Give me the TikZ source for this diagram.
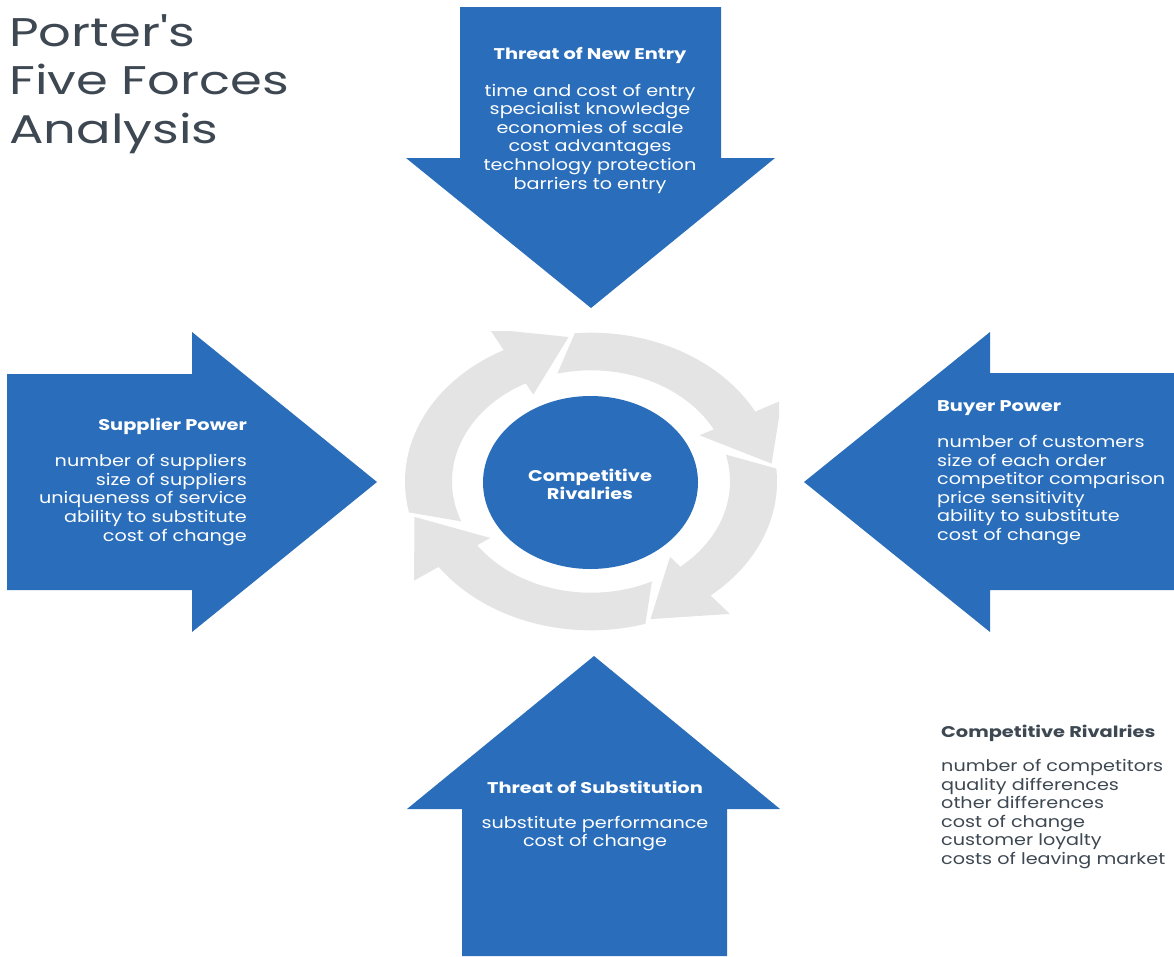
\documentclass[tikz,border=0pt]{standalone}
\usepackage{fontspec}
\setmainfont[FakeStretch=1.2,BoldFeatures={FakeStretch=1.25}]{Poppins}
\newfontfamily\titlefont[FakeStretch=1.28]{Poppins}
\usetikzlibrary{shapes.geometric}
\definecolor{forceblue}{HTML}{2A6EBB}
\definecolor{ringgray}{HTML}{E4E4E4}
\definecolor{titlegray}{HTML}{3E4852}
\begin{document}
\begin{tikzpicture}[x=1pt,y=1pt,
  force/.style={fill=forceblue,draw=none},
  head/.style={text=white,font=\fontsize{15.5}{18.6}\selectfont\bfseries,inner sep=0pt},
  items/.style={text=white,font=\fontsize{16}{18.6}\selectfont,inner sep=0pt},
]
\useasboundingbox[fill=white] (0,0) rectangle (1174,-956);

% five force arrows
\fill[force] (460,-7) -- (721,-7) -- (721,-158) -- (775,-158) -- (591,-308) -- (406,-158) -- (460,-158) -- cycle;
\fill[force] (7,-374) -- (192,-374) -- (192,-332) -- (377,-482) -- (192,-632) -- (192,-590) -- (7,-590) -- cycle;
\fill[force] (1174,-373) -- (990,-373) -- (990,-332) -- (804,-482) -- (990,-632) -- (990,-590) -- (1174,-590) -- cycle;
\fill[force] (462,-956) -- (462,-809) -- (407,-809) -- (594,-656) -- (780,-809) -- (727,-809) -- (727,-956) -- cycle;

% circular ring of arrows
\begin{scope}
\clip (405,-331) rectangle (779,-633);
\begin{scope}[shift={(591,-481.5)},yscale=0.8]
\foreach \hb/\ao/\ai in {118/192/201, 28/95/104, -50/5/14, -145/-73/-64}{
  \fill[ringgray] (\ao:186) arc[start angle=\ao, end angle=\hb, radius=186]
    -- (\hb:216)
    -- ({170*cos(\hb)+65*cos(\hb-90)},{170*sin(\hb)+65*sin(\hb-90)})
    -- (\hb:123) -- (\hb:139)
    arc[start angle=\hb, end angle=\ai, radius=139] -- cycle;
}
\end{scope}
\end{scope}

% centre
\node[ellipse,fill=forceblue,minimum width=215,minimum height=173,inner sep=0pt] (cr) at (590.5,-482.5) {};
\node[head,align=center,font=\fontsize{15.5}{18}\selectfont\bfseries] (crt) at (590,-484) {Competitive\\Rivalries};

% title
\node[anchor=north west,align=left,inner sep=0pt,text=titlegray,font=\titlefont\fontsize{40}{48.5}\selectfont] (title) at (9,-14) {Porter's\\Five Forces\\Analysis};

% texts
\node[head] (tn) at (590,-55) {Threat of New Entry};
\node[items,align=center] (tnl) at (590,-138.5) {time and cost of entry\\specialist knowledge\\economies of scale\\cost advantages\\technology protection\\barriers to entry};

\node[head,anchor=east] (sp) at (247,-426) {Supplier Power};
\node[items,align=right,anchor=east] (spl) at (247,-500) {number of suppliers\\size of suppliers\\uniqueness of service\\ability to substitute\\cost of change};

\node[head,anchor=west] (bp) at (937,-408) {Buyer Power};
\node[items,align=left,anchor=west] (bpl) at (937,-490) {number of customers\\size of each order\\competitor comparison\\price sensitivity\\ability to substitute\\cost of change};

\node[head] (ts) at (595,-787) {Threat of Substitution};
\node[items,align=center] (tsl) at (595,-833.5) {substitute performance\\cost of change};

\node[head,anchor=west,text=titlegray] (rv) at (941,-733) {Competitive Rivalries};
\node[items,align=left,anchor=west,text=titlegray] (rvl) at (941,-814) {number of competitors\\quality differences\\other differences\\cost of change\\customer loyalty\\costs of leaving market};
\end{tikzpicture}
\end{document}
